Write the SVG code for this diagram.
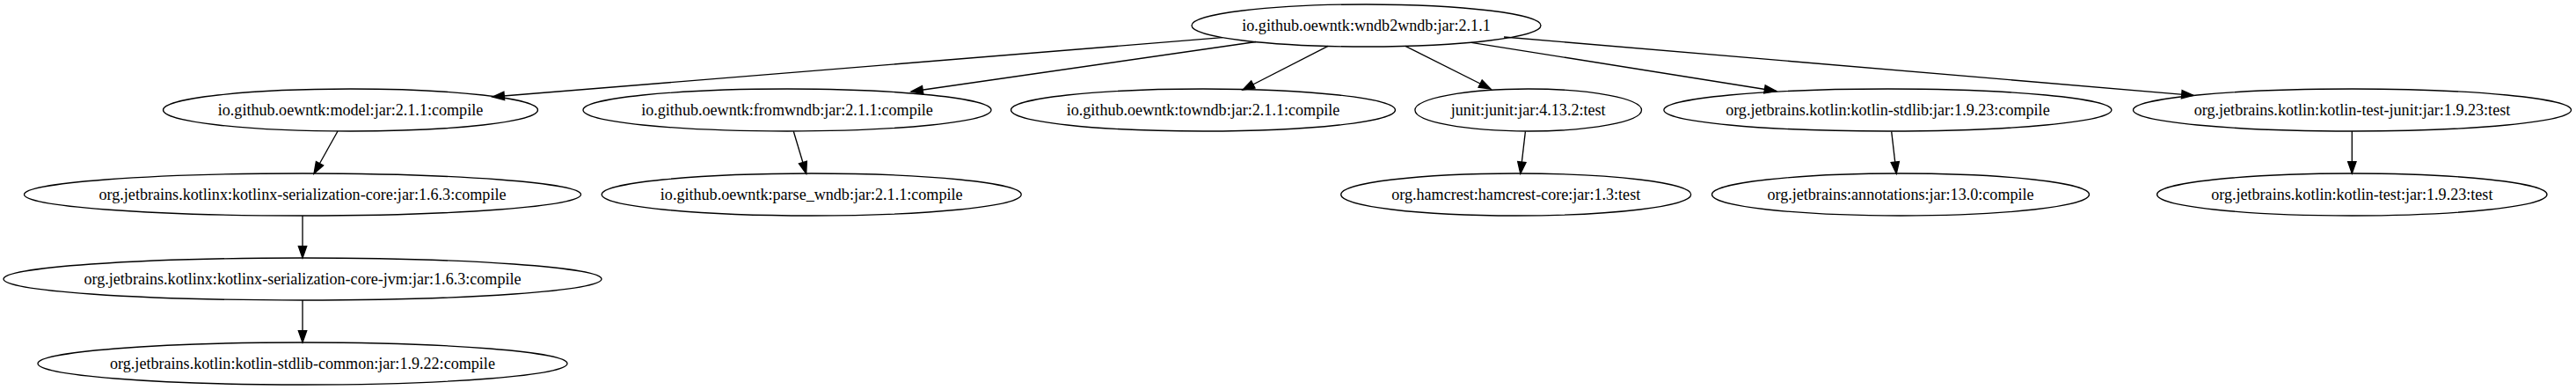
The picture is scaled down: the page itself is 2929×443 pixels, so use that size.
<svg xmlns="http://www.w3.org/2000/svg" width="2929" height="443" viewBox="0 0 2929 443">
<style>
.n ellipse{fill:none;stroke:#000;stroke-width:1.33}
.n text{font-family:"Liberation Serif","Times New Roman",serif;font-size:18.1px;fill:#000;text-anchor:middle}
.e line{stroke:#000;stroke-width:1.33;fill:none;marker-end:url(#ah)}
</style>
<defs>
<marker id="ah" markerUnits="userSpaceOnUse" markerWidth="14" markerHeight="10" refX="13.3" refY="4.67" orient="auto" overflow="visible">
<path d="M0,0 L13.3,4.67 L0,9.33 Z" fill="#000" stroke="#000" stroke-width="1.33"/>
</marker>
</defs>
<rect width="2929" height="443" fill="#fff"/>
<g id="edges" class="e">
<line x1="1390" y1="42.7" x2="560" y2="110"/>
<line x1="1428" y1="47.5" x2="1036" y2="104"/>
<line x1="1510" y1="52.3" x2="1413" y2="102"/>
<line x1="1598" y1="52.3" x2="1695" y2="101"/>
<line x1="1673" y1="48.3" x2="2019.6" y2="103.5"/>
<line x1="1710" y1="42" x2="2494" y2="108.3"/>
<line x1="384" y1="149" x2="357" y2="197.3"/>
<line x1="344" y1="245" x2="344" y2="293"/>
<line x1="344" y1="341" x2="344" y2="389"/>
<line x1="902.3" y1="149.3" x2="916.7" y2="197.3"/>
<line x1="1734.4" y1="149.3" x2="1728.8" y2="197.3"/>
<line x1="2150.7" y1="149.3" x2="2156.3" y2="197.3"/>
<line x1="2674.3" y1="149" x2="2674.3" y2="197"/>
</g>
<g id="root" class="n"><ellipse cx="1553.5" cy="29" rx="198.5" ry="24"/><text x="1553.5" y="35.3">io.github.oewntk:wndb2wndb:jar:2.1.1</text></g>
<g id="model" class="n"><ellipse cx="398.5" cy="125" rx="213" ry="24"/><text x="398.5" y="131.3">io.github.oewntk:model:jar:2.1.1:compile</text></g>
<g id="fromwndb" class="n"><ellipse cx="895" cy="125" rx="232" ry="24"/><text x="895" y="131.3">io.github.oewntk:fromwndb:jar:2.1.1:compile</text></g>
<g id="towndb" class="n"><ellipse cx="1368" cy="125" rx="218.5" ry="24"/><text x="1368" y="131.3">io.github.oewntk:towndb:jar:2.1.1:compile</text></g>
<g id="junit" class="n"><ellipse cx="1737.7" cy="125" rx="128.8" ry="24"/><text x="1737.7" y="131.3">junit:junit:jar:4.13.2:test</text></g>
<g id="kotlin-stdlib" class="n"><ellipse cx="2146.4" cy="125" rx="254.5" ry="24"/><text x="2146.4" y="131.3">org.jetbrains.kotlin:kotlin-stdlib:jar:1.9.23:compile</text></g>
<g id="kotlin-test-junit" class="n"><ellipse cx="2674.5" cy="125" rx="249" ry="24"/><text x="2674.5" y="131.3">org.jetbrains.kotlin:kotlin-test-junit:jar:1.9.23:test</text></g>
<g id="ser-core" class="n"><ellipse cx="344" cy="221" rx="316.5" ry="24"/><text x="344" y="227.3">org.jetbrains.kotlinx:kotlinx-serialization-core:jar:1.6.3:compile</text></g>
<g id="parse-wndb" class="n"><ellipse cx="922.7" cy="221" rx="238.5" ry="24"/><text x="922.7" y="227.3">io.github.oewntk:parse_wndb:jar:2.1.1:compile</text></g>
<g id="hamcrest" class="n"><ellipse cx="1723.7" cy="221" rx="199" ry="24"/><text x="1723.7" y="227.3">org.hamcrest:hamcrest-core:jar:1.3:test</text></g>
<g id="annotations" class="n"><ellipse cx="2161" cy="221" rx="214.5" ry="24"/><text x="2161" y="227.3">org.jetbrains:annotations:jar:13.0:compile</text></g>
<g id="kotlin-test" class="n"><ellipse cx="2674.3" cy="221" rx="221.7" ry="24"/><text x="2674.3" y="227.3">org.jetbrains.kotlin:kotlin-test:jar:1.9.23:test</text></g>
<g id="ser-core-jvm" class="n"><ellipse cx="344" cy="317" rx="340" ry="24"/><text x="344" y="323.3">org.jetbrains.kotlinx:kotlinx-serialization-core-jvm:jar:1.6.3:compile</text></g>
<g id="stdlib-common" class="n"><ellipse cx="344" cy="413" rx="301" ry="24"/><text x="344" y="419.3">org.jetbrains.kotlin:kotlin-stdlib-common:jar:1.9.22:compile</text></g>
</svg>
